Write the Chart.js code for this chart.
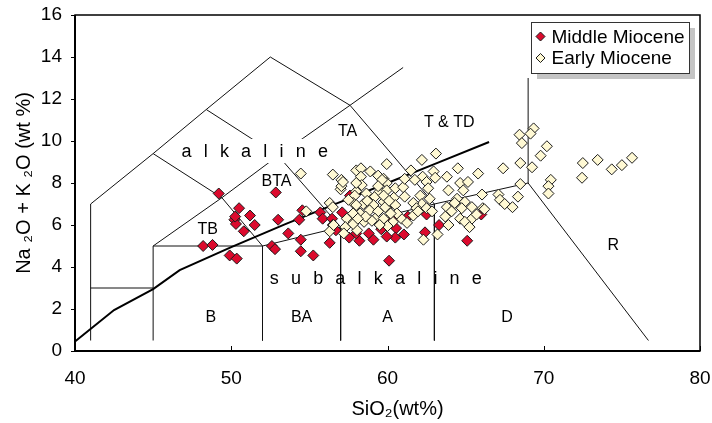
<!DOCTYPE html>
<html>
<head>
<meta charset="utf-8">
<script src="https://cdn.jsdelivr.net/npm/chart.js@4.4.0/dist/chart.umd.min.js"></script>
<style>
  html, body { margin: 0; padding: 0; background: #fff; }
  #wrap { width: 712px; height: 423px; position: relative; }
</style>
</head>
<body>
<div id="wrap"><canvas id="tasChart"></canvas></div>
<script>
// axis ticks
var xTicks = [40, 50, 60, 70, 80];
var yTicks = [0, 2, 4, 6, 8, 10, 12, 14, 16];

// samples: [SiO2, Na2O+K2O]
var middleMiocene = [
  [49.2,7.5],[50.5,6.8],[51.2,6.45],[50.2,6.25],[50.3,6.05],[50.25,6.4],[51.5,6.0],[50.8,5.7],
  [48.2,5.0],[48.8,5.05],[49.9,4.55],[50.35,4.4],[52.85,7.55],[53.0,6.25],[52.6,5.0],[52.8,4.85],
  [53.65,5.6],[54.45,5.3],[54.45,4.75],[55.25,4.55],[54.35,6.25],[54.55,6.7],[55.7,6.6],[55.85,6.3],
  [56.45,6.3],[56.5,6.0],[57.1,6.6],[56.3,5.15],[57.55,5.4],[58.2,5.25],[57.6,7.4],[58.8,5.6],
  [59.1,5.3],[59.6,5.8],[60.05,6.1],[60.1,4.3],[60.4,6.25],[60.55,5.85],[60.5,5.4],[61.05,5.55],
  [59.95,5.45],[62.4,5.65],[63.3,6.0],[65.1,5.25],[66.0,6.5],[61.3,6.4],[62.5,6.5],[56.7,5.75],[58.0,5.6]
];
var earlyMiocene = [
  [54.45,8.45],[56.5,8.4],[57.05,8.15],[57.0,7.7],[58.0,8.6],[58.0,7.6],[56.3,7.05],[57.05,7.85],
  [58.3,8.7],[58.3,8.3],[58.9,8.55],[59.4,8.35],[59.75,8.2],[59.95,8.9],[59.95,8.0],[58.35,7.9],
  [58.65,7.5],[57.9,7.4],[57.8,7.05],[58.45,7.0],[59.2,7.35],[59.5,7.6],[59.75,7.1],[59.1,6.95],
  [56.5,6.85],[54.8,6.65],[58.25,6.55],[58.85,6.7],[59.4,6.65],[59.95,6.8],[57.4,6.3],[57.85,6.15],
  [58.5,6.15],[59.2,6.3],[59.75,6.3],[57.3,5.9],[58.05,5.75],[56.3,5.7],[57.2,5.6],[62.2,9.1],
  [63.1,9.4],[61.5,8.6],[64.5,8.7],[65.8,8.45],[62.25,8.3],[62.95,8.55],[63.05,8.25],[63.8,8.3],
  [59.65,8.15],[59.95,7.65],[60.5,7.75],[61.0,7.8],[61.1,8.2],[61.75,8.15],[62.5,8.05],[62.6,7.75],
  [64.65,8.0],[65.15,8.05],[63.9,7.65],[64.85,7.65],[59.75,7.4],[60.4,7.3],[61.1,7.35],[62.1,7.4],
  [62.2,7.0],[62.7,7.25],[64.45,7.25],[64.95,7.1],[66.05,7.45],[59.85,6.85],[60.5,6.95],[61.65,7.05],
  [61.85,6.8],[62.5,6.8],[63.8,6.85],[64.3,7.05],[64.75,6.8],[65.4,6.85],[66.1,6.8],[60.9,6.3],
  [61.65,6.45],[61.95,6.65],[62.85,6.65],[63.7,6.4],[64.1,6.65],[64.65,6.3],[65.4,6.3],[65.7,6.5],
  [60.35,6.15],[63.9,6.0],[64.95,6.15],[65.25,5.9],[62.3,5.3],[63.2,5.55],[69.35,10.6],[69.15,10.35],
  [68.45,10.3],[68.6,9.9],[70.2,9.75],[69.8,9.3],[68.5,8.95],[69.25,8.75],[67.4,8.7],[70.45,8.15],
  [70.3,7.85],[70.3,7.5],[68.5,7.95],[67.1,7.45],[67.2,7.2],[67.5,7.0],[68.35,7.35],[68.0,6.85],
  [66.2,6.75],[72.5,8.95],[72.45,8.25],[73.45,9.1],[74.35,8.65],[75.0,8.85],[75.65,9.2],[61.25,6.1],
  [56.55,6.0],[57.8,6.05],[57.8,6.55],[58.0,8.0],[57.15,8.05],[59.0,6.2],[60.0,5.95],[58.6,6.4],
  [60.6,6.55],[58.0,6.95],[58.7,7.15],[59.4,7.85],[60.1,7.15],[57.5,7.2],[58.1,6.3],[59.5,6.0],[60.2,6.55]
];

// alkaline / subalkaline dividing line
var alkalineDivide = [[40,0.45],[42.5,1.95],[45,2.95],[46.7,3.85],[50,4.95],[53.5,6.05],[57,7.1],[60,8.0],[63,8.9],[66.5,9.95]];

// TAS field boundaries
var tasBoundaries = [
  [[41,0.5],[41,7],[45,9.4],[48.4,11.5],[52.5,14],[57.6,11.7],[63,7],[69,8],[76.7,0.5]],
  [[41,3],[45,3]],
  [[45,0.5],[45,5],[52,5],[52,0.5]],
  [[52,5],[57,5.9],[57,0.5]],
  [[57,5.9],[63,7],[63,0.5]],
  [[45,5],[49.4,7.3],[53,9.3],[57.6,11.7]],
  [[45,9.4],[49.4,7.3],[52,5]],
  [[48.4,11.5],[53,9.3],[57,5.9]],
  [[57.6,11.7],[61,13.5]],
  [[69,8],[69,13]]
];

var fieldNames = ['TB', 'B', 'BA', 'A', 'D', 'R', 'BTA', 'TA', 'T & TD'];
var fieldAt = [[48.5,5.8],[48.7,1.6],[54.5,1.6],[60.0,1.6],[67.65,1.6],[74.45,5.0],[52.9,8.05],[57.45,10.45],[63.95,10.9]];

var FONT = "'Liberation Sans', Arial, sans-serif";
var RED = '#DC0A2D';
var CREAM = '#FFF9D4';

function toXY(arr) {
  return arr.map(function (p) { return { x: p[0], y: p[1] }; });
}

var datasets = [
  { label: 'Early Miocene', data: toXY(earlyMiocene), pointStyle: 'rectRot', pointRadius: 5.5,
    backgroundColor: CREAM, borderColor: '#1a1a1a', borderWidth: 1 },
  { label: 'Middle Miocene', data: toXY(middleMiocene), pointStyle: 'rectRot', pointRadius: 5.5,
    backgroundColor: RED, borderColor: '#1a1a1a', borderWidth: 1 },
  { label: 'divide', data: toXY(alkalineDivide), showLine: true, pointRadius: 0,
    borderColor: '#000', borderWidth: 2, fill: false }
];
tasBoundaries.forEach(function (seg) {
  datasets.push({ label: 'field', data: toXY(seg), showLine: true, pointRadius: 0,
    borderColor: '#111', borderWidth: 1, fill: false });
});

// field names, alkaline / subalkaline words, drawn under the samples
var fieldText = {
  id: 'fieldText',
  beforeDatasetDraw: function (chart, args) {
    if (args.index !== 1) return;
    var ctx = chart.ctx, xs = chart.scales.x, ys = chart.scales.y;
    ctx.save();
    ctx.fillStyle = '#000';
    ctx.textAlign = 'center';
    ctx.textBaseline = 'middle';
    ctx.font = '16px ' + FONT;
    fieldNames.forEach(function (name, i) {
      ctx.fillText(name, xs.getPixelForValue(fieldAt[i][0]), ys.getPixelForValue(fieldAt[i][1]));
    });

    ctx.font = '18px ' + FONT;
    ctx.letterSpacing = '3.6px';
    var word = 'a l k a l i n e';
    var w = ctx.measureText(word).width;
    var cx = xs.getPixelForValue(51.5), cy = ys.getPixelForValue(9.47);
    var top = ys.getPixelForValue(10.1), bottom = ys.getPixelForValue(8.95);
    ctx.fillStyle = '#fff';
    ctx.fillRect(cx - w / 2 - 4, top, w + 8, bottom - top);
    ctx.fillStyle = '#000';
    ctx.fillText(word, cx + 1.8, cy);

    ctx.fillText('s u b a l k a l i n e', xs.getPixelForValue(59.25) + 1.8, ys.getPixelForValue(3.42));
    ctx.restore();
  }
};

// frame, inward x ticks, x title and the legend box
var frameAndLegend = {
  id: 'frameAndLegend',
  afterDraw: function (chart) {
    var ctx = chart.ctx, a = chart.chartArea, xs = chart.scales.x;
    ctx.save();
    ctx.strokeStyle = '#000';
    ctx.lineWidth = 1.5;
    ctx.strokeRect(a.left, a.top, a.right - a.left, a.bottom - a.top);
    ctx.lineWidth = 2;
    ctx.beginPath();
    ctx.moveTo(a.left, a.top);
    ctx.lineTo(a.left, a.bottom);
    ctx.lineTo(a.right, a.bottom);
    ctx.stroke();
    ctx.lineWidth = 1;
    xTicks.forEach(function (v) {
      var px = Math.round(xs.getPixelForValue(v)) + 0.5;
      ctx.beginPath();
      ctx.moveTo(px, a.bottom);
      ctx.lineTo(px, a.bottom - 5);
      ctx.stroke();
    });

    // x axis title, sits a little right of centre as in the source
    ctx.fillStyle = '#000';
    ctx.font = '20px ' + FONT;
    ctx.textAlign = 'center';
    ctx.textBaseline = 'middle';
    ctx.fillText('SiO₂(wt%)', (a.left + a.right) / 2 + 10, 409);

    // legend
    var bx = a.right - 169, by = a.top + 7, bw = 158, bh = 51;
    ctx.fillStyle = '#c4c4c4';
    ctx.fillRect(bx + 6, by + 6, bw, bh);
    ctx.fillStyle = '#fff';
    ctx.fillRect(bx, by, bw, bh);
    ctx.strokeStyle = '#333';
    ctx.lineWidth = 1;
    ctx.strokeRect(bx + 0.5, by + 0.5, bw, bh);
    var rows = [[middleMiocene, 'Middle Miocene', RED], [earlyMiocene, 'Early Miocene', CREAM]];
    ctx.font = '19px ' + FONT;
    ctx.textBaseline = 'middle';
    ctx.textAlign = 'left';
    rows.forEach(function (r, i) {
      var cy = by + 14.5 + i * 21.5, cx = bx + 9.5, s = 4.5;
      ctx.beginPath();
      ctx.moveTo(cx, cy - s);
      ctx.lineTo(cx + s, cy);
      ctx.lineTo(cx, cy + s);
      ctx.lineTo(cx - s, cy);
      ctx.closePath();
      ctx.fillStyle = r[2];
      ctx.fill();
      ctx.strokeStyle = '#1a1a1a';
      ctx.stroke();
      ctx.fillStyle = '#000';
      ctx.fillText(r[1], bx + 20.5, cy + 1);
    });
    ctx.restore();
  }
};

new Chart(document.getElementById('tasChart'), {
  type: 'scatter',
  data: { datasets: datasets },
  options: {
    responsive: true,
    maintainAspectRatio: false,
    animation: false,
    layout: { padding: { top: 15, right: 12, left: 0, bottom: 0 } },
    plugins: { legend: { display: false }, tooltip: { enabled: false } },
    scales: {
      x: {
        type: 'linear', min: 40, max: 80,
        afterFit: function (s) { s.height = 72; s.paddingLeft = 0; s.paddingRight = 0; },
        afterBuildTicks: function (s) { s.ticks = xTicks.map(function (v) { return { value: v }; }); },
        grid: { display: false, drawTicks: false },
        border: { display: false },
        ticks: { color: '#000', font: { size: 19, family: FONT }, padding: 16 },
        title: { display: false }
      },
      y: {
        type: 'linear', min: 0, max: 16,
        afterFit: function (s) { s.width = 75; s.paddingTop = 0; s.paddingBottom = 0; },
        afterBuildTicks: function (s) { s.ticks = yTicks.map(function (v) { return { value: v }; }); },
        grid: { drawOnChartArea: false, drawTicks: true, tickLength: 4, color: '#000' },
        border: { display: false },
        ticks: { color: '#000', font: { size: 19, family: FONT }, padding: 9 },
        title: { display: true, text: 'Na ₂O + K ₂O (wt %)', color: '#000', font: { size: 20, family: FONT },
          padding: { top: 12, bottom: 0 } }
      }
    }
  },
  plugins: [fieldText, frameAndLegend]
});
</script>
</body>
</html>
